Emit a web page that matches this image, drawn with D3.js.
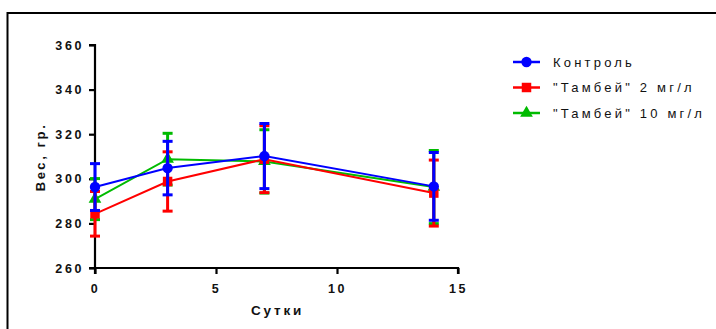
<!DOCTYPE html>
<html>
<head>
<meta charset="utf-8">
<script src="https://cdn.jsdelivr.net/npm/d3@7"></script>
<style>
  body { margin: 0; background: #fff; }
  svg { display: block; font-family: "Liberation Sans", Arial, sans-serif; }
</style>
</head>
<body>
<svg id="chart" width="716" height="329"></svg>
<script>
const days = [0, 3, 7, 14];
const seriesNames = ["Контроль", "\"Тамбей\" 2 мг/л", "\"Тамбей\" 10 мг/л"];
const controlMean = [296.3, 304.8, 310.2, 296.6];
const controlErr = [10.5, 12, 14.6, 15.2];
const tambey2Mean = [284.3, 298.8, 308.8, 293.6];
const tambey2Err = [10, 13.3, 15, 14.8];
const tambey10Mean = [290.9, 308.8, 307.8, 296.3];
const tambey10Err = [9.2, 11.6, 14.2, 16.4];
const xTicks = [0, 5, 10, 15];
const yTicks = [260, 280, 300, 320, 340, 360];

const margin = { top: 45, left: 95 };
const plotW = 363, plotH = 223;

const svg = d3.select("#chart");

// outer frame
svg.append("rect")
  .attr("x", 7.5).attr("y", 13)
  .attr("width", 760).attr("height", 400)
  .attr("fill", "none")
  .attr("stroke", "#000")
  .attr("stroke-width", 2);

const g = svg.append("g")
  .attr("transform", `translate(${margin.left},${margin.top})`);

const x = d3.scaleLinear().domain([0, 15]).range([0, plotW]);
const y = d3.scaleLinear().domain([260, 360]).range([plotH, 0]);

const xAxis = g.append("g")
  .attr("transform", `translate(0,${plotH})`)
  .call(d3.axisBottom(x).tickValues(xTicks).tickSize(6).tickPadding(10).tickFormat(d3.format("d")));
const yAxis = g.append("g")
  .call(d3.axisLeft(y).tickValues(yTicks).tickSize(6).tickPadding(5).tickFormat(d3.format("d")));

[xAxis, yAxis].forEach(a => {
  a.select(".domain").attr("stroke", "#000").attr("stroke-width", 2.2);
  a.selectAll(".tick line").attr("stroke", "#000").attr("stroke-width", 2.2);
  a.selectAll(".tick text")
    .attr("fill", "#111")
    .style("font-size", "12.5px")
    .style("font-weight", "bold")
    .style("letter-spacing", "2.6px")
    .style("font-family", "'Liberation Sans', Arial, sans-serif");
});
xAxis.select(".domain").attr("d", `M0,6V0H${plotW}V6`);
yAxis.select(".domain").attr("d", `M-6,0H0V${plotH}H-6`);

// axis titles
svg.append("text")
  .attr("x", margin.left + plotW / 2 + 1)
  .attr("y", 315)
  .attr("text-anchor", "middle")
  .style("font-size", "13.5px")
  .style("font-weight", "bold")
  .style("letter-spacing", "2.8px")
  .attr("fill", "#111")
  .text("Сутки");

svg.append("text")
  .attr("transform", "translate(45,157) rotate(-90)")
  .attr("text-anchor", "middle")
  .style("font-size", "13px")
  .style("font-weight", "bold")
  .style("letter-spacing", "2.6px")
  .attr("fill", "#111")
  .text("Вес, гр.");

const series = [
  { name: seriesNames[2], mean: tambey10Mean, err: tambey10Err, color: "#00bb00", shape: d3.symbolTriangle, size: 70 },
  { name: seriesNames[1], mean: tambey2Mean, err: tambey2Err, color: "#ff0000", shape: d3.symbolSquare, size: 90 },
  { name: seriesNames[0], mean: controlMean, err: controlErr, color: "#0000ff", shape: d3.symbolCircle, size: 85 }
];

const line = d3.line()
  .x(d => x(d.day))
  .y(d => y(d.v));

series.forEach(s => {
  const pts = days.map((day, i) => ({ day, v: s.mean[i], e: s.err[i] }));
  const sg = g.append("g");

  sg.append("path")
    .datum(pts)
    .attr("fill", "none")
    .attr("stroke", s.color)
    .attr("stroke-width", 2)
    .attr("d", line);

  // error bars
  sg.selectAll("line.err")
    .data(pts)
    .enter().append("line")
    .attr("class", "err")
    .attr("x1", d => x(d.day)).attr("x2", d => x(d.day))
    .attr("y1", d => y(d.v + d.e)).attr("y2", d => y(d.v - d.e))
    .attr("stroke", s.color)
    .attr("stroke-width", 3);

  [1, -1].forEach((sign, k) => {
    sg.selectAll(`line.cap${k}`)
      .data(pts)
      .enter().append("line")
      .attr("class", `cap${k}`)
      .attr("x1", d => x(d.day) - 5).attr("x2", d => x(d.day) + 5)
      .attr("y1", d => y(d.v + sign * d.e))
      .attr("y2", d => y(d.v + sign * d.e))
      .attr("stroke", s.color)
      .attr("stroke-width", 3);
  });

  sg.selectAll("path.pt")
    .data(pts)
    .enter().append("path")
    .attr("class", "pt")
    .attr("transform", d => `translate(${x(d.day)},${y(d.v)})`)
    .attr("d", d3.symbol().type(s.shape).size(s.size))
    .attr("fill", s.color);
});

// legend
const legendItems = [series[2], series[1], series[0]];
const lg = svg.append("g").attr("transform", "translate(513,62)");
legendItems.forEach((s, i) => {
  const row = lg.append("g").attr("transform", `translate(0,${i * 25.5})`);
  row.append("line")
    .attr("x1", 0).attr("x2", 27)
    .attr("stroke", s.color).attr("stroke-width", 2.5);
  row.append("path")
    .attr("transform", "translate(13.5,0)")
    .attr("d", d3.symbol().type(s.shape).size(s.size))
    .attr("fill", s.color);
  row.append("text")
    .attr("x", 40).attr("y", 4.5)
    .style("font-size", "13px")
    .style("letter-spacing", "3.2px")
    .attr("fill", "#111")
    .text(s.name);
});
</script>
</body>
</html>
